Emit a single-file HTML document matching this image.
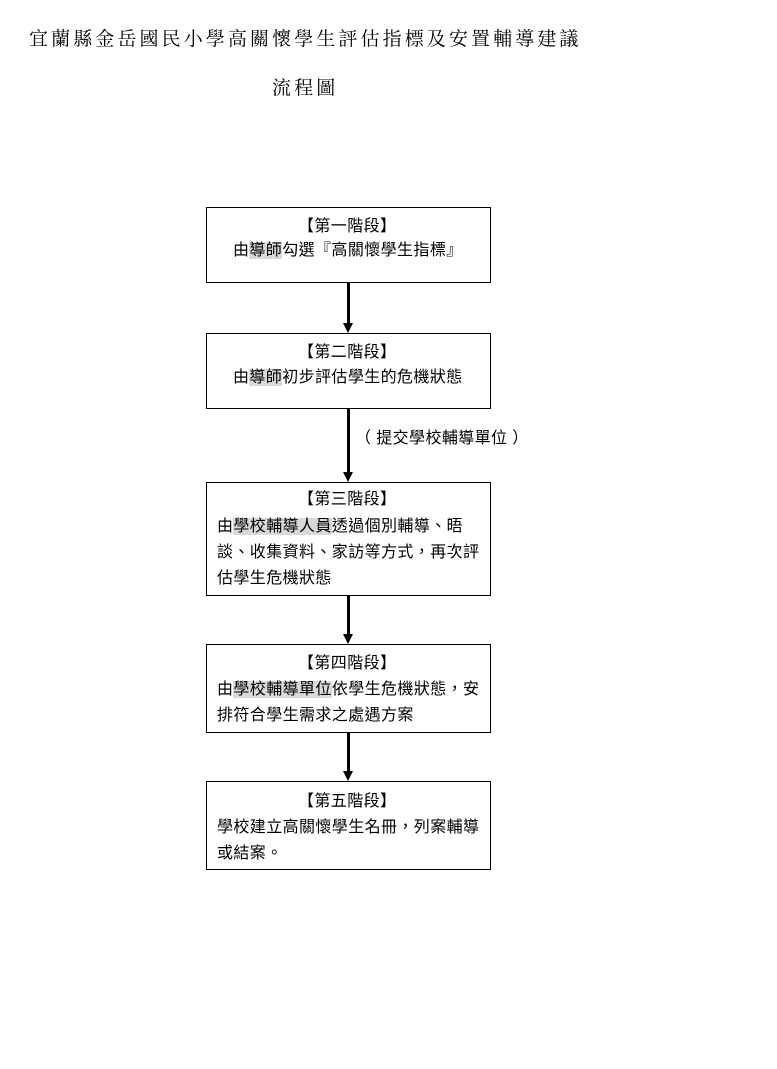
<!DOCTYPE html>
<html><head><meta charset="utf-8"><style>
body{margin:0;width:777px;height:1069px;background:#fff;position:relative;overflow:hidden;font-family:"Liberation Sans","Noto Sans CJK TC",sans-serif;color:#000}
.t{position:absolute;white-space:nowrap}
.title{font-family:"Liberation Serif","Noto Serif CJK SC",serif;font-size:19px;letter-spacing:3.1px}
.box{position:absolute;left:206px;width:283px;border:1px solid #000;box-sizing:content-box}
.l{position:absolute;font-size:16px;white-space:nowrap;line-height:20px;letter-spacing:0.4px}
.h{background:#d9d9d9}
.v{position:absolute;left:347px;width:3px;background:#000}
.ah{position:absolute;left:343px;width:0;height:0;border-left:5.5px solid transparent;border-right:5.5px solid transparent;border-top:10px solid #000}
</style></head><body>
<div class="t title" style="left:29px;top:24px">宜蘭縣金岳國民小學高關懷學生評估指標及安置輔導建議</div>
<div class="t title" style="left:272px;top:73px">流程圖</div>

<div class="box" style="top:207px;height:74px"></div>
<div class="l" style="left:298px;top:217px">【第一階段】</div>
<div class="l" style="left:233px;top:241px">由<span class="h">導師</span>勾選『高關懷學生指標』</div>

<div class="v" style="top:282px;height:42px"></div><div class="ah" style="top:323px"></div>

<div class="box" style="top:333px;height:74px"></div>
<div class="l" style="left:298px;top:343px">【第二階段】</div>
<div class="l" style="left:233px;top:368px">由<span class="h">導師</span>初步評估學生的危機狀態</div>

<div class="v" style="top:408px;height:65px"></div><div class="ah" style="top:472px"></div>
<div class="l" style="left:355px;top:429px">（ 提交學校輔導單位 ）</div>

<div class="box" style="top:482px;height:112px"></div>
<div class="l" style="left:298px;top:490px">【第三階段】</div>
<div class="l" style="left:217px;top:517px">由<span class="h">學校輔導人員</span>透過個別輔導、晤</div>
<div class="l" style="left:217px;top:543px">談、收集資料、家訪等方式，再次評</div>
<div class="l" style="left:217px;top:569px">估學生危機狀態</div>

<div class="v" style="top:595px;height:40px"></div><div class="ah" style="top:634px"></div>

<div class="box" style="top:644px;height:87px"></div>
<div class="l" style="left:298px;top:654px">【第四階段】</div>
<div class="l" style="left:217px;top:680px">由<span class="h">學校輔導單位</span>依學生危機狀態，安</div>
<div class="l" style="left:217px;top:706px">排符合學生需求之處遇方案</div>

<div class="v" style="top:732px;height:40px"></div><div class="ah" style="top:771px"></div>

<div class="box" style="top:781px;height:87px"></div>
<div class="l" style="left:298px;top:792px">【第五階段】</div>
<div class="l" style="left:217px;top:818px">學校建立高關懷學生名冊，列案輔導</div>
<div class="l" style="left:217px;top:844px">或結案。</div>
</body></html>
